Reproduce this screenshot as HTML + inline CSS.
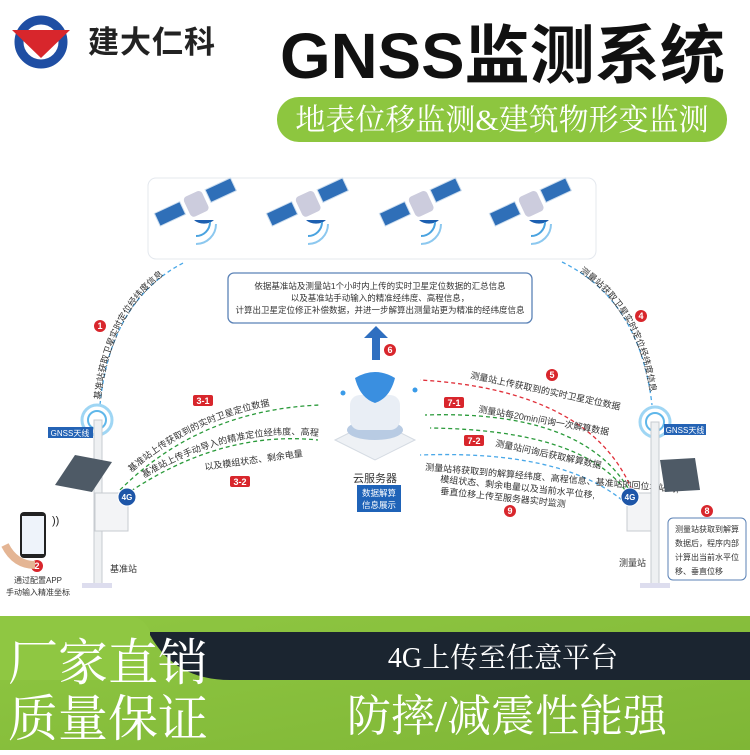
<!DOCTYPE html>
<html><head><meta charset="utf-8"><style>
body{margin:0;width:750px;height:750px;overflow:hidden;background:#fff;font-family:"Liberation Sans","Noto Sans CJK SC",sans-serif}
</style></head><body>
<svg width="750" height="750" viewBox="0 0 750 750" xmlns="http://www.w3.org/2000/svg" font-family="Liberation Sans, Noto Sans CJK SC, sans-serif">
<defs>
<linearGradient id="gr" x1="0" y1="0" x2="1" y2="1"><stop offset="0" stop-color="#8fc742"/><stop offset="1" stop-color="#7fb636"/></linearGradient>
<g id="sat">
<rect x="-42" y="-18" width="28" height="14" fill="#2f6fb8" stroke="#cde" transform="rotate(-25)"/>
<rect x="14" y="-18" width="28" height="14" fill="#2f6fb8" stroke="#cde" transform="rotate(-25)"/>
<rect x="-10" y="-20" width="20" height="22" rx="4" fill="#ccd" transform="rotate(-25)"/>
<path d="M-6 8 A12 8 0 0 0 14 8 Z" fill="#1d5fb0"/>
<path d="M10 10 a14 14 0 0 1 -14 14" fill="none" stroke="#4aa3e0" stroke-width="2"/>
<path d="M16 12 a20 20 0 0 1 -20 20" fill="none" stroke="#8cc8ef" stroke-width="2"/>
</g>
</defs>
<!-- logo -->
<circle cx="41" cy="42" r="22" fill="none" stroke="#1f4ea3" stroke-width="9"/>
<path d="M12 30 L70 30 L41 58 Z" fill="#d8262c"/>
<text x="88" y="53" font-size="31" fill="#222" font-weight="bold" letter-spacing="1">建大仁科</text>
<text x="280" y="78" font-size="64" font-weight="bold" fill="#111" textLength="445" lengthAdjust="spacingAndGlyphs">GNSS监测系统</text>
<rect x="277" y="97" width="450" height="45" rx="22" fill="#8dc63f"/>
<text x="502" y="130" font-size="30" fill="#fff" text-anchor="middle" font-family="Liberation Serif, Noto Serif CJK SC, serif">地表位移监测&amp;建筑物形变监测</text>
<!-- sat box -->
<rect x="148" y="178" width="448" height="81" rx="8" fill="#fff" stroke="#e4e8ee"/>
<use href="#sat" x="200" y="212"/><use href="#sat" x="312" y="212"/><use href="#sat" x="425" y="212"/><use href="#sat" x="535" y="212"/>
<!-- arcs -->
<g fill="none" stroke-width="1.3" stroke-dasharray="4 3">
<path id="a1" d="M100 405 Q110 300 185 262" stroke="#4aa8e8"/>
<path id="a4" d="M562 262 Q640 300 652 405" stroke="#4aa8e8"/>
<path id="g1" d="M120 490 Q200 410 320 405" stroke="#2a9a3a"/>
<path id="g2" d="M125 495 Q220 430 318 440" stroke="#2a9a3a"/>
<path d="M632 490 Q590 390 420 380" stroke="#e0303a"/>
<path d="M628 488 Q580 410 425 415" stroke="#2a9a3a"/>
<path d="M625 490 Q580 430 430 428" stroke="#2a9a3a"/>
<path d="M622 500 Q560 450 420 455" stroke="#4aa8e8"/>
</g>
<g font-size="9" fill="#333">
<text><textPath href="#a1" startOffset="5">基准站获取卫星实时定位经纬度信息</textPath></text>
<text><textPath href="#a4" startOffset="20">测量站获取卫星实时定位经纬度信息</textPath></text>
<text dy="-5"><textPath href="#g1" startOffset="20">基准站上传获取到的实时卫星定位数据</textPath></text>
<text dy="-4"><textPath href="#g2" startOffset="25">基准站上传手动导入的精准定位经纬度、高程信息</textPath></text>
</g>
<g font-size="9" fill="#333">
<text x="470" y="378" transform="rotate(12 470 378)">测量站上传获取到的实时卫星定位数据</text>
<text x="478" y="412" transform="rotate(10 478 412)">测量站每20min问询一次解算数据</text>
<text x="495" y="446" transform="rotate(12 495 446)">测量站问询后获取解算数据</text>
<text x="425" y="470" transform="rotate(5 425 470)">测量站将获取到的解算经纬度、高程信息、基准站的回位地站码,</text>
<text x="440" y="482" transform="rotate(6 440 482)">模组状态、剩余电量以及当前水平位移,</text>
<text x="440" y="494" transform="rotate(6 440 494)">垂直位移上传至服务器实时监测</text>
<text x="205" y="470" transform="rotate(-8 205 470)">以及模组状态、剩余电量</text>
</g>
<!-- badges -->
<g font-size="9" font-weight="bold" fill="#fff" text-anchor="middle">
<circle cx="100" cy="326" r="6" fill="#d8262c"/><text x="100" y="329">1</text>
<circle cx="641" cy="316" r="6" fill="#d8262c"/><text x="641" y="319">4</text>
<circle cx="390" cy="350" r="6" fill="#d8262c"/><text x="390" y="353">6</text>
<circle cx="552" cy="375" r="6" fill="#d8262c"/><text x="552" y="378">5</text>
<circle cx="510" cy="511" r="6" fill="#d8262c"/><text x="510" y="514">9</text>
<circle cx="707" cy="511" r="6" fill="#d8262c"/><text x="707" y="514">8</text>
<circle cx="37" cy="566" r="6" fill="#d8262c"/><text x="37" y="569">2</text>
<rect x="193" y="395" width="20" height="11" rx="2" fill="#d8262c"/><text x="203" y="404">3-1</text>
<rect x="230" y="476" width="20" height="11" rx="2" fill="#d8262c"/><text x="240" y="485">3-2</text>
<rect x="444" y="397" width="20" height="11" rx="2" fill="#d8262c"/><text x="454" y="406">7-1</text>
<rect x="464" y="435" width="20" height="11" rx="2" fill="#d8262c"/><text x="474" y="444">7-2</text>
</g>
<!-- info box -->
<rect x="228" y="273" width="304" height="50" rx="6" fill="#fff" stroke="#5b82b6" stroke-width="1.3"/>
<g font-size="8.5" fill="#333" text-anchor="middle">
<text x="380" y="289">依据基准站及测量站1个小时内上传的实时卫星定位数据的汇总信息</text>
<text x="380" y="301">以及基准站手动输入的精准经纬度、高程信息，</text>
<text x="380" y="313">计算出卫星定位修正补偿数据，并进一步解算出测量站更为精准的经纬度信息</text>
</g>
<path d="M372 360 V338 H364 L376 326 L388 338 H380 V360 Z" fill="#2f6fc0"/>
<!-- cloud server -->
<path d="M335 440 L375 420 L415 440 L375 460 Z" fill="#eef1f5" stroke="#d4dae2"/>
<ellipse cx="375" cy="430" rx="28" ry="10" fill="#b8cbe3"/>
<rect x="350" y="395" width="50" height="35" rx="10" fill="#e9eef5"/>
<path d="M355 378 q20 -12 40 0 q-5 20 -20 25 q-15 -5 -20 -25z" fill="#3a8fe0"/>
<circle cx="343" cy="393" r="2.5" fill="#3a9be8"/><circle cx="415" cy="390" r="2.5" fill="#3a9be8"/>
<text x="375" y="482" font-size="11" fill="#333" text-anchor="middle">云服务器</text>
<rect x="357" y="485" width="44" height="27" fill="#1f63b8"/>
<text x="379" y="496" font-size="8.5" fill="#fff" text-anchor="middle">数据解算</text>
<text x="379" y="508" font-size="8.5" fill="#fff" text-anchor="middle">信息展示</text>
<!-- left station -->
<circle cx="97" cy="420" r="15" fill="none" stroke="#9fd6f4" stroke-width="3"/><circle cx="97" cy="420" r="9" fill="none" stroke="#5fb7ea" stroke-width="2"/>
<rect x="94" y="420" width="8" height="165" fill="#eef0f2" stroke="#c7cbd0"/>
<rect x="82" y="583" width="30" height="5" fill="#dde"/>
<polygon points="55,485 75,455 112,462 92,492" fill="#4e5a66"/>
<rect x="95" y="493" width="33" height="38" fill="#f3f4f6" stroke="#c7cbd0"/>
<rect x="48" y="427" width="45" height="11" fill="#2463b5"/><text x="70" y="436" font-size="8" fill="#fff" text-anchor="middle">GNSS天线</text>
<circle cx="127" cy="497" r="9" fill="#1e56a8" stroke="#fff"/><text x="127" y="500" font-size="8" font-weight="bold" fill="#fff" text-anchor="middle">4G</text>
<text x="110" y="572" font-size="9" fill="#333">基准站</text>
<rect x="20" y="512" width="26" height="46" rx="4" fill="#222"/><rect x="22" y="516" width="22" height="38" fill="#eef3fa"/>
<path d="M5 545 q10 20 30 20" fill="none" stroke="#e4b594" stroke-width="8"/>
<text x="52" y="524" font-size="11" fill="#222">))</text>
<text x="38" y="583" font-size="8" fill="#333" text-anchor="middle">通过配置APP</text>
<text x="38" y="595" font-size="8" fill="#333" text-anchor="middle">手动输入精准坐标</text>
<!-- right station -->
<circle cx="655" cy="422" r="15" fill="none" stroke="#9fd6f4" stroke-width="3"/><circle cx="655" cy="422" r="9" fill="none" stroke="#5fb7ea" stroke-width="2"/>
<rect x="651" y="422" width="8" height="163" fill="#eef0f2" stroke="#c7cbd0"/>
<rect x="640" y="583" width="30" height="5" fill="#dde"/>
<polygon points="660,460 695,458 700,490 665,492" fill="#4e5a66"/>
<rect x="627" y="493" width="24" height="38" fill="#f3f4f6" stroke="#c7cbd0"/>
<rect x="664" y="424" width="42" height="11" fill="#2463b5"/><text x="685" y="433" font-size="8" fill="#fff" text-anchor="middle">GNSS天线</text>
<circle cx="630" cy="497" r="9" fill="#1e56a8" stroke="#fff"/><text x="630" y="500" font-size="8" font-weight="bold" fill="#fff" text-anchor="middle">4G</text>
<text x="619" y="566" font-size="9" fill="#333">测量站</text>
<rect x="668" y="518" width="78" height="62" rx="5" fill="#fff" stroke="#5b82b6"/>
<g font-size="8" fill="#333"><text x="675" y="532">测量站获取到解算</text><text x="675" y="546">数据后，程序内部</text><text x="675" y="560">计算出当前水平位</text><text x="675" y="574">移、垂直位移</text></g>
<!-- bottom banner -->
<rect x="0" y="616" width="750" height="134" fill="url(#gr)"/>
<path d="M150 635 Q175 680 230 680 L750 680 L750 632 L150 632 Z" fill="#1b2530"/>
<path d="M0 616 L130 616 Q145 618 150 632 L150 680 L0 680 Z" fill="#8fc742"/>
<g font-family="Liberation Serif, Noto Serif CJK SC, serif" fill="#fff">
<text x="8" y="680" font-size="50">厂家直销</text>
<text x="8" y="736" font-size="50">质量保证</text>
<text x="503" y="667" font-size="28" text-anchor="middle">4G上传至任意平台</text>
<text x="507" y="731" font-size="44" text-anchor="middle">防摔/减震性能强</text>
</g>
</svg>
</body></html>
